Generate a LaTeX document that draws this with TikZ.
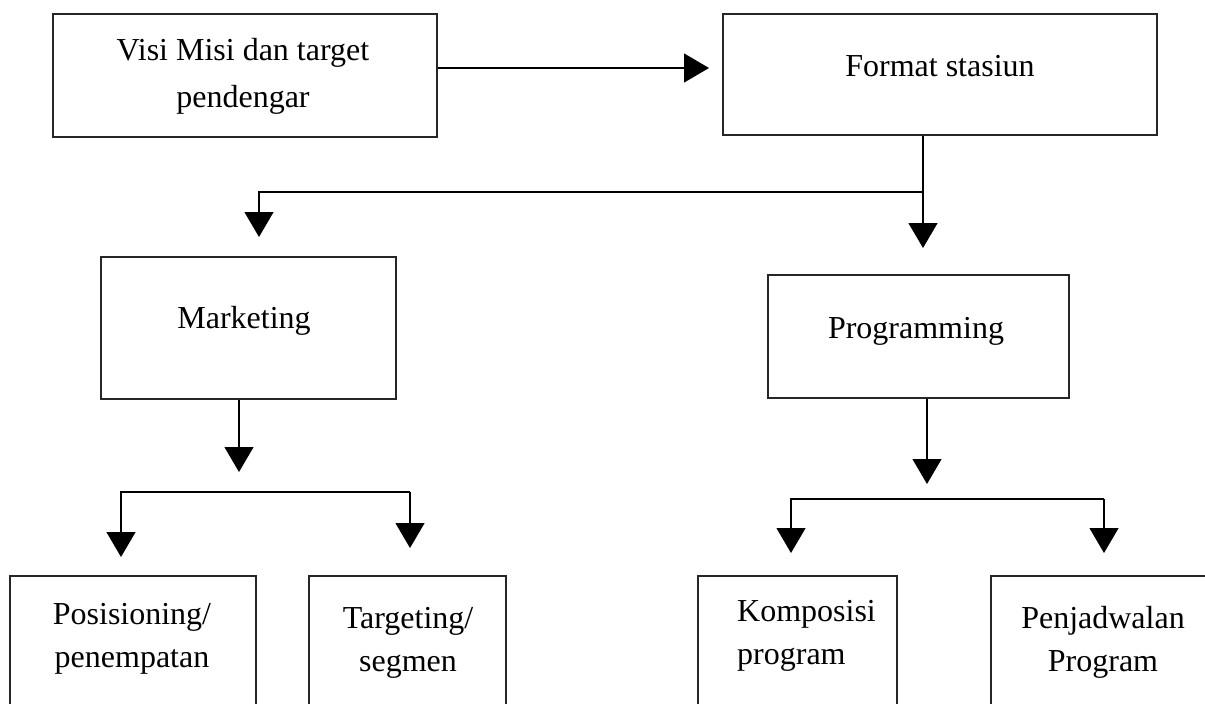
\documentclass[tikz,border=0pt]{standalone}
\usepackage{fontspec}
\setmainfont{Liberation Serif}
\usetikzlibrary{arrows.meta}
\begin{document}
\begin{tikzpicture}[x=1pt,y=-1pt,
  box/.style={draw=black!85, line width=1.3pt, inner sep=0pt},
  lbl/.style={font=\fontsize{32}{43}\selectfont, align=center, inner sep=0pt},
  conn/.style={line width=1.2pt},
  arr/.style={conn, -{Triangle[length=25pt,width=29pt]}}]
\useasboundingbox (0,0) rectangle (1205,704);
\clip (0,0) rectangle (1205,704);
% boxes
\node[box, minimum width=384pt, minimum height=123pt] (visi) at (245,75.5) {};
\node[box, minimum width=434pt, minimum height=121pt] (fmt) at (940,74.5) {};
\node[box, minimum width=295pt, minimum height=142pt] (mkt) at (248.5,328) {};
\node[box, minimum width=301pt, minimum height=123pt] (prg) at (918.5,336.5) {};
\node[box, minimum width=246pt, minimum height=148pt] (pos) at (133,650) {};
\node[box, minimum width=197pt, minimum height=148pt] (tgt) at (407.5,650) {};
\node[box, minimum width=199pt, minimum height=148pt] (kom) at (797.5,650) {};
\node[box, minimum width=234pt, minimum height=148pt] (pen) at (1108,650) {};
% labels
\node[lbl, font=\fontsize{32}{47}\selectfont] (visiT) at (243,76) {Visi Misi dan target\\pendengar};
\node[lbl] (fmtT) at (940,66) {Format stasiun};
\node[lbl] (mktT) at (244,321) {Marketing};
\node[lbl] (prgT) at (916,331) {Programming};
\node[lbl] (posT) at (132,639) {Posisioning/\\penempatan};
\node[lbl] (tgtT) at (408,643) {Targeting/\\segmen};
\node[lbl, align=left, anchor=west] (komT) at (737,636) {Komposisi\\program};
\node[lbl] (penT) at (1103,642) {Penjadwalan\\Program};
% connectors
\coordinate (t1) at (709,68);
\draw[arr] (visi.east |- t1) -- (t1);
\coordinate (j1) at (923,192);
\coordinate (t2) at (923,248);
\coordinate (t3) at (259,237);
\draw[arr] (fmt.south -| j1) -- (t2);
\draw[arr] (j1) -- (j1 -| t3) -- (t3);
\coordinate (t4) at (239,472);
\draw[arr] (mkt.south -| t4) -- (t4);
\coordinate (h1) at (0,492);
\coordinate (t5) at (121,557);
\coordinate (t6) at (410,548);
\draw[arr] (t6 |- h1) -- (t5 |- h1) -- (t5);
\draw[arr] (t6 |- h1) -- (t6);
\coordinate (t7) at (927,484);
\draw[arr] (prg.south -| t7) -- (t7);
\coordinate (h2) at (0,499);
\coordinate (t8) at (791,553);
\coordinate (t9) at (1104,553);
\draw[arr] (t9 |- h2) -- (t8 |- h2) -- (t8);
\draw[arr] (t9 |- h2) -- (t9);
\end{tikzpicture}
\end{document}
